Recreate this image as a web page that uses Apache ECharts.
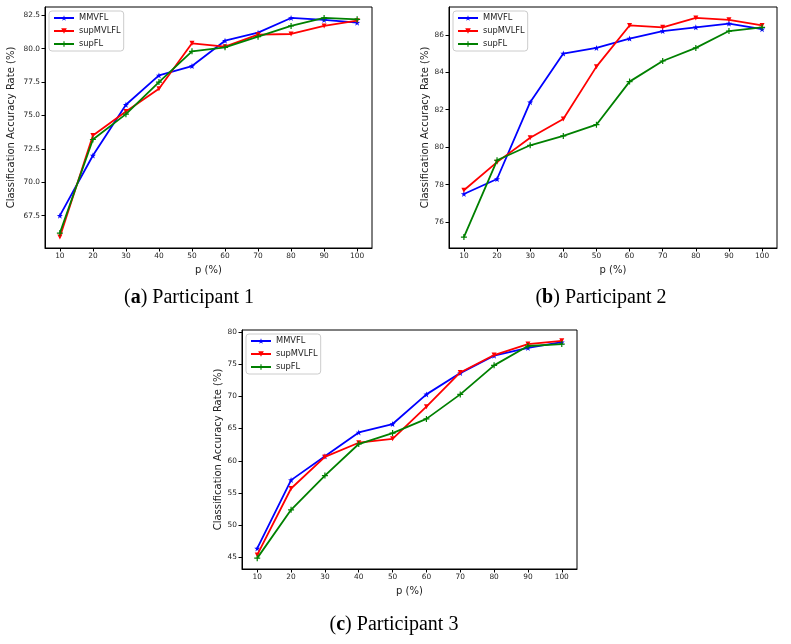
<!DOCTYPE html>
<html>
<head>
<meta charset="utf-8">
<script src="https://cdn.jsdelivr.net/npm/echarts@6/dist/echarts.min.js"></script>
<style>
html,body{margin:0;padding:0;background:#fff;}
#chart{width:791px;height:644px;}
</style>
</head>
<body>
<div id="chart"></div>
<script>
// ---- data ----
const P = [10, 20, 30, 40, 50, 60, 70, 80, 90, 100];
const seriesNames = ['MMVFL', 'supMVLFL', 'supFL'];

// Participant 1
const p1_MMVFL    = [67.5, 72.0, 75.8, 78.0, 78.7, 80.6, 81.2, 82.3, 82.15, 81.95];
const p1_supMVLFL = [65.9, 73.5, 75.3, 77.0, 80.4, 80.15, 81.05, 81.1, 81.7, 82.1];
const p1_supFL    = [66.2, 73.2, 75.1, 77.5, 79.8, 80.1, 80.9, 81.7, 82.3, 82.2];

// Participant 2
const p2_MMVFL    = [77.5, 78.3, 82.4, 85.0, 85.3, 85.8, 86.2, 86.4, 86.6, 86.3];
const p2_supMVLFL = [77.7, 79.2, 80.5, 81.5, 84.3, 86.5, 86.4, 86.9, 86.8, 86.5];
const p2_supFL    = [75.2, 79.3, 80.1, 80.6, 81.2, 83.5, 84.6, 85.3, 86.2, 86.4];

// Participant 3
const p3_MMVFL    = [46.4, 57.0, 60.7, 64.4, 65.7, 70.3, 73.6, 76.3, 77.5, 78.4];
const p3_supMVLFL = [45.4, 55.7, 60.6, 62.8, 63.4, 68.4, 73.7, 76.4, 78.1, 78.6];
const p3_supFL    = [44.9, 52.4, 57.7, 62.6, 64.3, 66.5, 70.3, 74.8, 77.8, 78.1];

// tick labels
const yTicks1 = [67.5, 70.0, 72.5, 75.0, 77.5, 80.0, 82.5];
const yTicks2 = [76, 78, 80, 82, 84, 86];
const yTicks3 = [45, 50, 55, 60, 65, 70, 75, 80];

const captions = [
  {letter: 'a', text: ') Participant 1'},
  {letter: 'b', text: ') Participant 2'},
  {letter: 'c', text: ') Participant 3'}
];

// ---- styles ----
const colors = ['#0000ff', '#ff0000', '#008000'];
const starPath = 'path://M0,-10 L2.35,-3.24 L9.51,-3.09 L3.8,1.24 L5.88,8.09 L0,4 L-5.88,8.09 L-3.8,1.24 L-9.51,-3.09 L-2.35,-3.24 Z';
const triPath = 'path://M0,0 L10,0 L5,9 Z';
const plusPath = 'path://M4,0 H6 V4 H10 V6 H6 V10 H4 V6 H0 V4 H4 Z';
const symbols = [starPath, triPath, plusPath];
const symbolSizes = [6, 5, 6];

const FONT = 'DejaVu Sans';

function limits(arrs) {
  const all = [].concat(...arrs);
  const mn = Math.min(...all), mx = Math.max(...all);
  const m = (mx - mn) * 0.05;
  return [mn - m, mx + m];
}

const panels = [
  {data: [p1_MMVFL, p1_supMVLFL, p1_supFL], ticks: yTicks1, dec: 1,
   grid: {left: 45, top: 7, width: 327, height: 241}, yGap: 29, legend: {left: 49, top: 11}},
  {data: [p2_MMVFL, p2_supMVLFL, p2_supFL], ticks: yTicks2, dec: 0,
   grid: {left: 449, top: 7, width: 328, height: 241}, yGap: 17, legend: {left: 453, top: 11}},
  {data: [p3_MMVFL, p3_supMVLFL, p3_supFL], ticks: yTicks3, dec: 0,
   grid: {left: 242, top: 330, width: 335, height: 239}, yGap: 19, legend: {left: 246, top: 334}}
];

const grids = [], xAxes = [], yAxes = [], series = [], legends = [];
panels.forEach((pn, i) => {
  grids.push(Object.assign({show: true, borderColor: '#000', borderWidth: 1, backgroundColor: '#fff', containLabel: false}, pn.grid));
  xAxes.push({
    type: 'value', gridIndex: i, min: 5.5, max: 104.5,
    name: 'p (%)', nameLocation: 'middle', nameGap: 17,
    nameTextStyle: {fontFamily: FONT, fontSize: 10, color: '#222'},
    axisLine: {show: true, lineStyle: {color: '#000', width: 1}},
    axisTick: {show: true, length: 3.5, customValues: P, lineStyle: {color: '#000'}},
    axisLabel: {customValues: P, fontFamily: FONT, fontSize: 7.4, color: '#262626', margin: 5},
    splitLine: {show: false}
  });
  const lim = limits(pn.data);
  yAxes.push({
    type: 'value', gridIndex: i, min: lim[0], max: lim[1],
    name: 'Classification Accuracy Rate (%)', nameLocation: 'middle', nameGap: pn.yGap,
    nameTextStyle: {fontFamily: FONT, fontSize: 10, color: '#222'},
    axisLine: {show: true, lineStyle: {color: '#000', width: 1}},
    axisTick: {show: true, length: 3.5, customValues: pn.ticks, lineStyle: {color: '#000'}},
    axisLabel: {customValues: pn.ticks, fontFamily: FONT, fontSize: 7.4, color: '#262626', margin: 5,
      formatter: v => Number(v).toFixed(pn.dec)},
    splitLine: {show: false}
  });
  pn.data.forEach((arr, k) => {
    series.push({
      type: 'line', name: seriesNames[k], xAxisIndex: i, yAxisIndex: i,
      data: P.map((x, j) => [x, arr[j]]),
      symbol: symbols[k], symbolSize: symbolSizes[k], showAllSymbol: true,
      lineStyle: {color: colors[k], width: 1.8},
      itemStyle: {color: colors[k]},
      animation: false, z: 3 + k
    });
  });
  legends.push({
    left: pn.legend.left, top: pn.legend.top, orient: 'vertical',
    data: seriesNames,
    itemWidth: 20, itemHeight: 7, itemGap: 5,
    padding: [3, 3, 3, 4],
    borderColor: '#cccccc', borderWidth: 1, borderRadius: 3,
    backgroundColor: 'rgba(255,255,255,0.9)',
    textStyle: {fontFamily: FONT, fontSize: 8.3, color: '#222'}
  });
});

const capPos = [[189, 298], [601, 298], [394, 625]];
const graphics = captions.map((c, i) => ({
  type: 'text', x: capPos[i][0], y: capPos[i][1],
  style: {
    text: '{n|(}{b|' + c.letter + '}{n|' + c.text + '}',
    align: 'center', verticalAlign: 'middle',
    rich: {
      n: {fontFamily: 'Liberation Serif', fontSize: 20, fill: '#000'},
      b: {fontFamily: 'Liberation Serif', fontSize: 20, fontWeight: 'bold', fill: '#000'}
    }
  }
}));

const chart = echarts.init(document.getElementById('chart'), null, {renderer: 'canvas'});
chart.setOption({
  backgroundColor: '#fff',
  animation: false,
  grid: grids, xAxis: xAxes, yAxis: yAxes,
  legend: legends, series: series, graphic: graphics
});
</script>
</body>
</html>
